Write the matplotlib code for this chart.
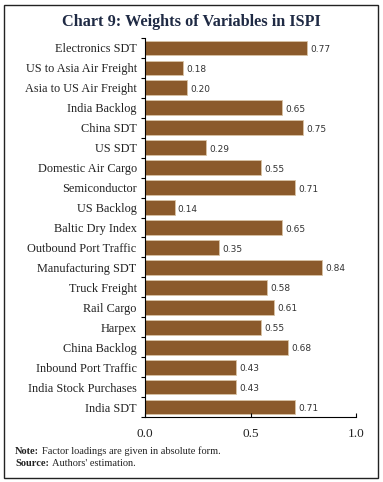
import matplotlib.pyplot as plt
from matplotlib.patches import Rectangle

variables = ["Electronics SDT", "US to Asia Air Freight", "Asia to US Air Freight",
             "India Backlog", "China SDT", "US SDT", "Domestic Air Cargo",
             "Semiconductor", "US Backlog", "Baltic Dry Index", "Outbound Port Traffic",
             "Manufacturing SDT", "Truck Freight", "Rail Cargo", "Harpex",
             "China Backlog", "Inbound Port Traffic", "India Stock Purchases", "India SDT"]
weights = [0.77, 0.18, 0.20, 0.65, 0.75, 0.29, 0.55, 0.71, 0.14, 0.65, 0.35,
           0.84, 0.58, 0.61, 0.55, 0.68, 0.43, 0.43, 0.71]
x_ticks = [0.0, 0.5, 1.0]

serif = "Liberation Serif"

fig = plt.figure(figsize=(3.83, 4.82), dpi=100)
ax = fig.add_axes([145/383, 1 - 417/482, (356-145)/383, (417-38)/482])

pos = list(range(len(variables)))
ax.barh(pos, weights, height=0.74, color="#8B5A2B", edgecolor="#d9c3a5", linewidth=0.6)
for p, w in zip(pos, weights):
    ax.text(w + 0.015, p + 0.08, f"{w:.2f}", va="center", ha="left",
            fontsize=6.5, color="#333333", family="DejaVu Sans")

ax.set_ylim(len(variables) - 0.5, -0.5)
ax.set_xlim(0, 1.0)
ax.set_yticks(pos)
ax.set_yticklabels(variables, family=serif, fontsize=8.8, color="#222222")
ax.tick_params(axis="y", length=0, pad=6)
# ticks between categories on the left spine
ax.set_yticks([p - 0.5 for p in pos] + [len(variables) - 0.5], minor=True)
ax.tick_params(axis="y", which="minor", length=3, direction="out", width=0.8)
ax.set_xticks(x_ticks)
ax.set_xticklabels([f"{t:.1f}" for t in x_ticks], family=serif, fontsize=9.5, color="#222222")
ax.tick_params(axis="x", length=3, direction="in", pad=8, width=0.8)
ax.spines['top'].set_visible(False)
ax.spines['right'].set_visible(False)

fig.text(0.5, 1 - 22/482, "Chart 9: Weights of Variables in ISPI", ha="center", va="center",
         fontsize=11.7, fontweight="bold", family=serif, color="#1f2a44")

# note and source: bold lead-in followed by plain text
renderer = fig.canvas.get_renderer()
for ypix, lead, rest in [(451, "Note:", "Factor loadings are given in absolute form."),
                         (463, "Source:", "Authors' estimation.")]:
    t = fig.text(15/383, 1 - ypix/482, lead, fontsize=7.5, fontweight="bold",
                 family=serif, va="center", color="#222222")
    x1 = t.get_window_extent(renderer).x1
    fig.text((x1 + 3) / fig.bbox.width, 1 - ypix/482, rest, fontsize=7.5,
             family=serif, va="center", color="#222222")

fig.patches.append(Rectangle((4/383, 4/482), 374/383, 473/482, transform=fig.transFigure,
                             fill=False, edgecolor="#222222", linewidth=1.0))

fig.savefig("out.png", dpi=100)
